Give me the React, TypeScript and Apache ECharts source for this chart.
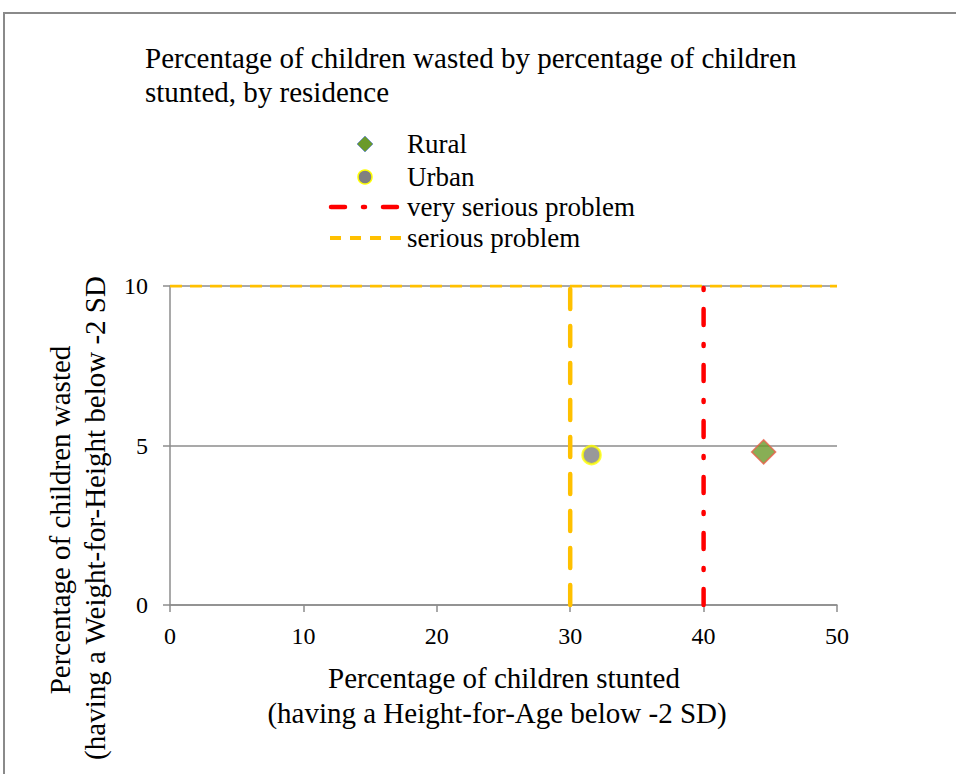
import React, { useEffect, useRef } from "react";
import * as echarts from "echarts";

const TITLE_LINES = [
  "Percentage of children wasted by percentage of children",
  "stunted, by residence",
];
const X_NAME_LINES = [
  "Percentage of children stunted",
  "(having a Height-for-Age below -2 SD)",
];
const Y_NAME_LINES = [
  "Percentage of children wasted",
  "(having a Weight-for-Height below -2 SD",
];
const X_TICKS = [0, 10, 20, 30, 40, 50];
const Y_TICKS = [0, 5, 10];
const RURAL = [[44.5, 4.8]];
const URBAN = [[31.6, 4.7]];
const SERIOUS_V = [[30, 0], [30, 10]];
const SERIOUS_H = [[0, 10], [50, 10]];
const VERY_SERIOUS_V = [[40, 0], [40, 10]];
const LEGEND_NAMES = ["Rural", "Urban", "very serious problem", "serious problem"];

const FONT = "Liberation Serif";

function txt(text: string, x: number, y: number, size: number, align = "left", rotation = 0) {
  return {
    type: "text",
    x,
    y,
    rotation,
    style: {
      text,
      fontFamily: FONT,
      fontSize: size,
      fill: "#000",
      align,
      verticalAlign: "middle",
    },
  };
}

export default function App() {
  const ref = useRef<HTMLDivElement>(null);
  useEffect(() => {
    if (!ref.current) return;
    const chart = echarts.init(ref.current, null, { renderer: "svg" });
    const legendY = [144, 177, 207, 238];
    const option: any = {
      animation: false,
      backgroundColor: "#ffffff",
      textStyle: { fontFamily: FONT },
      grid: { left: 170, right: 119, top: 286, bottom: 169, containLabel: false },
      xAxis: {
        type: "value",
        min: X_TICKS[0],
        max: X_TICKS[X_TICKS.length - 1],
        interval: 10,
        axisLine: { show: true, onZero: false, lineStyle: { color: "#8c8c8c", width: 1.5 } },
        axisTick: { show: true, length: 7, lineStyle: { color: "#8c8c8c", width: 1.5 } },
        axisLabel: { margin: 19, fontSize: 24, color: "#000", fontFamily: FONT },
        splitLine: { show: false },
      },
      yAxis: {
        type: "value",
        min: Y_TICKS[0],
        max: Y_TICKS[Y_TICKS.length - 1],
        interval: 5,
        axisLine: { show: true, onZero: false, lineStyle: { color: "#8c8c8c", width: 1.5 } },
        axisTick: { show: true, length: 7, lineStyle: { color: "#8c8c8c", width: 1.5 } },
        axisLabel: { margin: 22, fontSize: 24, color: "#000", fontFamily: FONT },
        splitLine: { show: true, lineStyle: { color: "#8c8c8c", width: 1.5 } },
      },
      series: [
        {
          name: "serious problem",
          type: "line",
          data: SERIOUS_H,
          symbol: "none",
          lineStyle: { color: "#FFC000", width: 3, type: [12, 8] },
          z: 3,
        },
        {
          name: "serious problem",
          type: "line",
          data: SERIOUS_V,
          symbol: "none",
          lineStyle: { color: "#FFC000", width: 4.5, type: [20, 17], cap: "round" },
          z: 3,
        },
        {
          name: "very serious problem",
          type: "line",
          data: VERY_SERIOUS_V,
          symbol: "none",
          lineStyle: { color: "#FF0000", width: 4.5, type: [16, 19, 2, 19], cap: "round" },
          z: 3,
        },
        {
          name: "Urban",
          type: "scatter",
          data: URBAN,
          symbol: "circle",
          symbolSize: 18,
          itemStyle: { color: "#808080", borderColor: "#FFFF00", borderWidth: 2.5 },
          z: 5,
        },
        {
          name: "Rural",
          type: "scatter",
          data: RURAL,
          symbol: "diamond",
          symbolSize: [24, 24],
          itemStyle: { color: "#6A9A2A", borderColor: "#E8604A", borderWidth: 1.5 },
          z: 5,
        },
      ],
      graphic: [
        {
          type: "rect",
          shape: { x: 4, y: 13, width: 1200, height: 1200 },
          style: { fill: "none", stroke: "#8a8a8a", lineWidth: 2 },
          z: 0,
        },
        txt(TITLE_LINES[0], 145, 58, 29),
        txt(TITLE_LINES[1], 145, 92, 29),
        // legend
        {
          type: "polygon",
          shape: { points: [[365, 136], [373, 144], [365, 152], [357, 144]] },
          style: { fill: "#6A9A2A", stroke: "#7a9bc0", lineWidth: 1 },
        },
        {
          type: "circle",
          shape: { cx: 365, cy: 177, r: 7 },
          style: { fill: "#808080", stroke: "#FFFF00", lineWidth: 1.5 },
        },
        {
          type: "line",
          shape: { x1: 331, y1: 207, x2: 400, y2: 207 },
          style: { stroke: "#FF0000", lineWidth: 4.5, lineDash: [14, 18, 2, 18], lineCap: "round" },
        },
        {
          type: "line",
          shape: { x1: 330, y1: 238, x2: 401, y2: 238 },
          style: { stroke: "#FFC000", lineWidth: 4, lineDash: [11, 9] },
        },
        ...LEGEND_NAMES.map((n, i) => txt(n, 407, legendY[i], 27)),
        // axis names
        txt(X_NAME_LINES[0], 504, 678, 29, "center"),
        txt(X_NAME_LINES[1], 497, 713, 29, "center"),
        txt(Y_NAME_LINES[0], 60, 520, 29, "center", Math.PI / 2),
        txt(Y_NAME_LINES[1], 95, 518, 29, "center", Math.PI / 2),
      ],
    };
    chart.setOption(option);
    return () => chart.dispose();
  }, []);
  return (
    <div
      ref={ref}
      style={{ position: "fixed", left: 0, top: 0, width: 956, height: 774 }}
    />
  );
}
